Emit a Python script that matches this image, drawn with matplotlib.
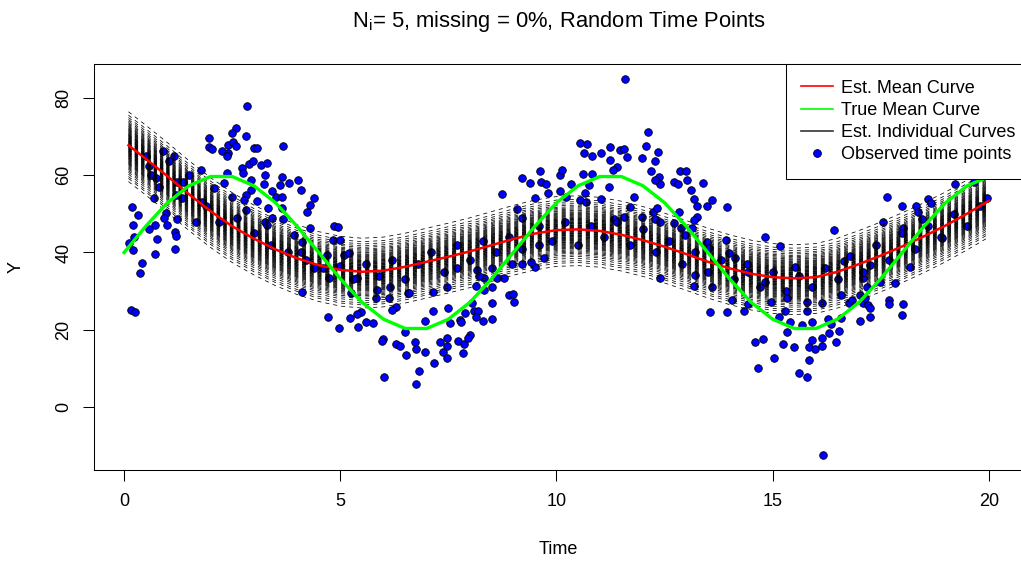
import matplotlib
matplotlib.use('Agg')
import matplotlib.pyplot as plt
from matplotlib.lines import Line2D
import numpy as np

plt.rcParams['font.family'] = ['Liberation Sans', 'DejaVu Sans']
plt.rcParams['mathtext.fontset'] = 'custom'
plt.rcParams['mathtext.rm'] = 'Liberation Sans'
plt.rcParams['mathtext.it'] = 'Liberation Sans'
plt.rcParams['lines.scale_dashes'] = False

# ---------------- data ----------------
title = 'N$_\\mathregular{i}$= 5, missing = 0%, Random Time Points'
x_label = 'Time'
y_label = 'Y'
x_ticks = [0, 5, 10, 15, 20]
y_ticks = [0, 20, 40, 60, 80]
legend_labels = ['Est. Mean Curve', 'True Mean Curve', 'Est. Individual Curves', 'Observed time points']

est_time = [0.1, 0.5, 1.0, 1.5, 2.0, 2.5, 3.0, 3.5, 4.0, 4.5, 5.0, 5.5, 6.0, 6.5, 7.0, 7.5,
            8.0, 8.5, 9.0, 9.5, 10.0, 10.5, 11.0, 11.5, 12.0, 12.5, 13.0, 13.5, 14.0, 14.5,
            15.0, 15.5, 16.0, 16.5, 17.0, 17.5, 18.0, 18.5, 19.0, 19.5, 20.0]
est_mean = [67.8, 64.3, 59.8, 55.1, 50.7, 46.8, 43.6, 40.8, 38.5, 36.7, 35.5, 35.0, 35.3, 36.3,
            37.6, 38.9, 40.3, 41.9, 43.5, 44.9, 45.8, 46.0, 45.6, 44.6, 43.2, 41.5, 39.6, 37.6,
            35.9, 34.5, 33.6, 33.3, 33.6, 35.0, 37.0, 39.2, 41.6, 44.2, 47.0, 50.1, 53.4]

true_time = [0.0, 0.5, 1.0, 1.5, 2.0, 2.5, 3.0, 3.5, 4.0, 4.5, 5.0, 5.5, 6.0, 6.5, 7.0, 7.5,
             8.0, 8.5, 9.0, 9.5, 10.0, 10.5, 11.0, 11.5, 12.0, 12.5, 13.0, 13.5, 14.0, 14.5,
             15.0, 15.5, 16.0, 16.5, 17.0, 17.5, 18.0, 18.5, 19.0, 19.5, 20.0]
true_mean = [40.0, 46.8, 52.9, 57.3, 59.7, 59.7, 57.3, 52.9, 46.8, 40.0, 33.2, 27.1, 22.7, 20.3,
             20.3, 22.7, 27.1, 33.2, 40.0, 46.8, 52.9, 57.3, 59.7, 59.7, 57.3, 52.9, 46.8, 40.0,
             33.2, 27.1, 22.7, 20.3, 20.3, 22.7, 27.1, 33.2, 40.0, 46.8, 52.9, 57.3, 59.7]

# vertical shift of each estimated individual curve from the estimated mean curve
subject_offsets = [-9.4, -8.6, -8.1, -7.5, -7.0, -6.6, -6.2, -5.9, -5.6, -5.3, -5.0, -4.8, -4.6,
                   -4.4, -4.2, -4.0, -3.8, -3.6, -3.4, -3.3, -3.1, -2.9, -2.8, -2.6, -2.5, -2.3,
                   -2.2, -2.0, -1.9, -1.8, -1.6, -1.5, -1.4, -1.2, -1.1, -1.0, -0.9, -0.7, -0.6,
                   -0.5, -0.4, -0.3, -0.2, -0.1, 0.0, 0.1, 0.2, 0.3, 0.4, 0.5, 0.6, 0.8, 0.9,
                   1.0, 1.1, 1.2, 1.4, 1.5, 1.6, 1.8, 1.9, 2.0, 2.2, 2.3, 2.5, 2.6, 2.8, 2.9,
                   3.1, 3.3, 3.5, 3.7, 3.9, 4.1, 4.3, 4.5, 4.8, 5.0, 5.3, 5.6, 5.9, 6.3, 6.7,
                   7.2, 7.8, 8.7]

obs_time = [
    2.85, 2.58, 2.49, 1.96, 2.81, 1.96, 2.04, 2.26, 2.41, 2.52, 2.58, 2.41, 2.39, 3.00, 2.89,
    2.72, 2.74, 2.39, 1.77, 0.91, 1.16, 1.04, 0.58, 0.62, 1.36, 2.08, 2.31, 2.93, 2.93, 2.81,
    2.78, 2.49, 0.69, 0.73, 1.33, 1.80, 2.81, 0.19, 0.31, 0.96, 0.92, 1.23, 0.21, 0.72, 0.58,
    1.00, 1.17, 1.19, 0.23, 0.77, 0.12, 0.21, 0.72, 1.17, 0.42, 0.36, 0.15, 0.25, 1.23, 1.66,
    3.07, 3.67, 2.97, 3.16, 3.30, 3.25, 3.66, 3.81, 4.01, 4.08, 3.61, 3.24, 3.43, 3.51, 3.66,
    3.08, 4.38, 4.30, 4.24, 3.33, 3.66, 3.43, 3.68, 3.25, 3.31, 4.30, 4.85, 4.95, 3.93, 4.12,
    4.82, 4.99, 5.08, 5.20, 4.70, 5.39, 4.12, 5.24, 5.86, 6.16, 5.82, 6.13, 6.56, 6.28, 6.20,
    5.49, 5.39, 5.22, 5.59, 5.76, 4.71, 4.97, 5.41, 5.99, 5.96, 6.28, 6.39, 6.53, 6.49, 6.01,
    4.08, 4.39, 4.74,
    8.74, 9.21, 9.38, 9.61, 9.65, 9.75, 9.81, 10.07, 10.13, 10.07, 9.51, 9.09, 9.21, 9.71, 9.51,
    9.21, 8.96, 8.51, 8.17, 8.32, 8.13, 8.51, 8.63, 8.78, 8.32, 7.47, 7.14, 6.59, 8.90, 8.99,
    9.01, 8.51, 8.05, 7.50, 7.14, 7.88, 8.09, 8.19, 8.13, 6.97, 7.53, 7.76, 7.78, 8.30, 8.50,
    6.73, 6.74, 6.97, 7.30, 7.47, 7.47, 7.37, 7.47, 7.16, 7.73, 7.86, 8.01, 7.96, 7.83, 6.82,
    6.76, 7.70, 9.59,
    11.58, 12.11, 12.06, 10.55, 10.71, 11.23, 11.48, 11.56, 10.63, 10.82, 11.04, 11.63, 11.23,
    11.98, 12.34, 12.29, 11.39, 11.31, 12.19, 10.62, 10.82, 10.34, 10.75, 12.36, 12.39, 12.27,
    12.85, 13.00, 12.71, 12.80, 13.02, 13.40, 13.10, 11.21, 10.67, 10.54, 10.69, 10.21, 11.03,
    11.79, 13.17, 13.60, 13.48, 13.24, 11.71, 12.23, 12.33, 12.83, 11.98, 12.27, 12.40, 13.25,
    13.19, 12.71, 12.88, 13.14, 12.98, 11.56, 11.32, 13.48, 13.52, 13.17, 13.54, 13.21,
    13.94, 13.91, 14.83, 15.18, 16.43, 13.98, 14.14, 15.52, 14.06, 13.94, 14.33, 14.44, 15.15,
    15.29, 15.79, 16.14, 16.59, 16.76, 16.83, 15.41, 15.68, 15.91, 16.29, 16.36, 16.59, 17.03,
    15.33, 16.31, 16.54, 14.60, 14.77, 15.25, 15.50, 15.83, 15.91, 16.14, 15.99, 16.13, 16.46,
    15.85, 15.02, 14.66, 15.60, 15.79, 16.16, 17.03, 17.10, 15.33, 14.95, 15.79, 14.44, 16.64,
    14.83,
    17.64, 17.99, 18.32, 18.35, 18.60, 18.66, 19.22, 17.56, 18.01, 18.45, 18.91, 18.17, 17.49,
    17.83, 17.18, 17.14, 17.68, 17.70, 18.01, 17.20, 17.26, 17.26, 17.99, 17.10, 17.26, 19.65,
    19.95,
    0.5, 0.8, 1.2, 1.5, 1.9, 2.2, 2.6, 3.0, 3.4, 3.8, 4.2, 4.6, 5.0, 5.3, 5.6, 5.9, 6.2, 6.5,
    6.8, 7.1, 7.4, 7.7, 8.0, 8.3, 8.6, 8.9, 9.2, 9.6, 9.9, 10.2, 10.5, 10.8, 11.1, 11.4, 11.7,
    12.0, 12.3, 12.6, 12.9, 13.2, 13.5, 13.8, 14.1, 14.4, 14.7, 15.0, 15.3, 15.6, 15.9, 16.2,
    16.5, 16.8, 17.1, 17.4, 17.7, 18.0, 18.3, 18.6, 18.9, 19.2, 19.5, 19.8, 12.4, 13.6, 9.4, 8.2]
obs_y = [
    78.1, 72.4, 70.9, 69.6, 70.2, 67.4, 66.8, 66.3, 67.9, 68.6, 67.6, 65.7, 65.0, 67.2, 63.0,
    61.8, 60.5, 60.7, 61.4, 66.2, 65.1, 63.6, 62.3, 60.1, 58.4, 56.8, 57.9, 58.8, 56.2, 54.9,
    53.6, 54.5, 54.1, 59.2, 54.1, 53.2, 51.0, 51.9, 49.6, 50.2, 48.9, 48.7, 47.1, 47.1, 46.1,
    47.1, 45.4, 44.4, 44.1, 43.5, 42.4, 40.6, 39.6, 40.9, 37.2, 34.8, 25.1, 24.5, 58.4, 48.0,
    67.2, 67.7, 63.7, 62.7, 63.3, 60.1, 59.7, 57.9, 58.8, 56.2, 57.5, 57.8, 56.0, 54.5, 54.5,
    53.4, 54.2, 52.3, 50.6, 51.5, 51.5, 49.0, 48.7, 48.0, 47.1, 46.3, 46.9, 46.5, 44.5, 42.8,
    43.2, 43.2, 39.4, 39.8, 39.4, 33.3, 29.8, 29.4, 30.3, 31.1, 28.1, 28.1, 29.4, 25.9, 25.1,
    24.6, 24.0, 23.1, 21.9, 21.6, 23.3, 20.3, 20.6, 17.6, 17.0, 16.4, 15.8, 13.4, 19.5, 7.8,
    40.2, 35.9, 33.3,
    55.1, 59.2, 58.1, 61.1, 58.2, 57.8, 55.4, 60.1, 61.4, 56.0, 54.2, 51.2, 49.0, 38.7, 36.3,
    36.9, 36.9, 36.1, 35.5, 33.3, 31.4, 31.1, 33.3, 33.3, 30.3, 31.1, 29.8, 29.6, 29.0, 29.2,
    27.2, 27.0, 27.0, 25.5, 24.8, 24.2, 24.8, 24.8, 23.3, 22.2, 21.6, 22.5, 21.9, 22.2, 22.7,
    16.9, 15.0, 14.3, 16.9, 17.7, 15.7, 14.3, 12.7, 11.4, 17.0, 16.4, 18.6, 17.7, 13.9, 9.3,
    5.9, 35.9, 41.9,
    85.0, 71.3, 67.7, 68.3, 68.1, 67.4, 66.6, 66.8, 65.7, 65.1, 65.7, 64.7, 64.0,
    64.4, 66.0, 63.7, 62.1, 61.4, 61.1, 60.3, 60.3, 57.7, 57.5, 59.7, 57.8, 58.8,
    61.1, 61.1, 58.2, 57.7, 58.8, 57.9, 56.2, 56.9, 55.5, 53.6, 53.0, 54.5, 53.9,
    54.5, 53.9, 53.6, 52.1, 52.1, 51.9, 50.6, 51.6, 50.4, 49.3, 48.7, 48.0, 49.3,
    48.4, 47.6, 46.4, 46.3, 44.5, 49.3, 48.6, 42.8, 41.2, 31.4, 24.6, 34.2,
    51.7, 43.2, 44.1, 41.8, 45.8, 39.8, 38.5, 36.3, 27.7, 24.6, 24.8, 26.6, 23.2,
    24.8, 24.8, 26.8, 29.0, 26.8, 27.7, 21.9, 21.2, 21.9, 22.8, 21.4, 22.9, 22.2,
    19.3, 19.0, 19.7, 16.9, 17.6, 16.4, 15.6, 15.6, 17.3, 17.7, 15.1, 15.7, 16.9,
    12.1, 12.6, 10.1, 8.7, 7.6, -12.5, 29.0, 26.8, 28.1, 27.2, 27.1, 35.0, 37.8,
    32.4,
    54.5, 52.1, 52.1, 50.6, 53.9, 52.8, 57.7, 48.0, 46.4, 48.7, 43.7, 36.3, 32.4,
    32.0, 31.1, 28.1, 27.7, 26.6, 26.6, 26.4, 25.5, 23.3, 23.8, 33.3, 36.8, 58.4,
    54.1,
    65.0, 57.0, 55.0, 60.0, 52.0, 48.0, 49.0, 45.0, 42.0, 40.0, 38.0, 36.0, 36.5, 33.0, 37.0,
    34.0, 38.0, 33.0, 37.0, 40.0, 35.0, 42.0, 38.0, 43.0, 40.0, 44.0, 41.0, 47.0, 43.0, 48.0,
    42.0, 47.0, 44.0, 48.0, 42.0, 46.0, 40.0, 43.0, 37.0, 40.0, 35.0, 38.0, 33.0, 37.0, 31.0,
    35.0, 30.0, 34.0, 31.0, 36.0, 33.0, 39.0, 35.0, 42.0, 38.0, 45.0, 41.0, 47.0, 44.0, 50.0,
    47.0, 52.0, 33.5, 31.0, 37.5, 34.0]

# ---------------- figure ----------------
W, H = 1021, 563
fig = plt.figure(figsize=(W / 100, H / 100), dpi=100)
ax_left, ax_right, ax_top, ax_bottom = 94.3, 1023.0, 64.3, 470.0
ax = fig.add_axes([ax_left / W, 1 - ax_bottom / H, (ax_right - ax_left) / W, (ax_bottom - ax_top) / H])

ax.scatter(obs_time, obs_y, s=30, c='#0000FF', edgecolors='black', linewidths=0.6, zorder=2)

mean_arr = np.array(est_mean)
for off in subject_offsets:
    ax.plot(est_time, mean_arr + off, color='black', lw=0.55, dashes=(2.9, 2.9), zorder=3)
ax.plot(est_time, est_mean, color='#FF0000', lw=1.8, zorder=4)
ax.plot(true_time, true_mean, color='#00FF00', lw=2.4, zorder=5)

ax.set_xlim(-0.69, 20.79)
ax.set_ylim(-16.4, 88.8)
ax.set_xticks(x_ticks)
ax.set_yticks(y_ticks)
ax.tick_params(length=7.7, width=0.75, labelsize=13, colors='black')
ax.tick_params(axis='x', pad=8.5)
ax.tick_params(axis='y', labelrotation=90, pad=8)
for lab in ax.get_yticklabels():
    lab.set_va('center')
for sp in ax.spines.values():
    sp.set_linewidth(0.75)

ax.set_title(title, fontsize=15.8, pad=27)
ax.set_xlabel(x_label, fontsize=13)
ax.set_ylabel(y_label, fontsize=13)
ax.xaxis.set_label_coords(0.5, -(549 - ax_bottom) / (ax_bottom - ax_top))
ax.xaxis.label.set_va('center')
ax.yaxis.set_label_coords(-(ax_left - 16) / (ax_right - ax_left), 0.5)
ax.yaxis.label.set_va('center')
ax.yaxis.label.set_ha('center')

handles = [Line2D([], [], color='#FF0000', lw=1.2),
           Line2D([], [], color='#00FF00', lw=1.2),
           Line2D([], [], color='#333333', lw=1.2),
           Line2D([], [], ls='none', marker='o', ms=5.6, mfc='#0000FF', mec='black', mew=0.6)]
leg = ax.legend(handles, legend_labels, loc='upper left',
                bbox_to_anchor=(785.7 / W, 1 - 64.3 / H), bbox_transform=fig.transFigure,
                fontsize=13, frameon=True, fancybox=False, edgecolor='black', framealpha=1,
                borderpad=0.85, labelspacing=0.29, handlelength=1.75, handletextpad=0.45,
                borderaxespad=0)
leg.get_frame().set_linewidth(0.75)
leg.set_zorder(10)

fig.savefig('out.png', dpi=100)
